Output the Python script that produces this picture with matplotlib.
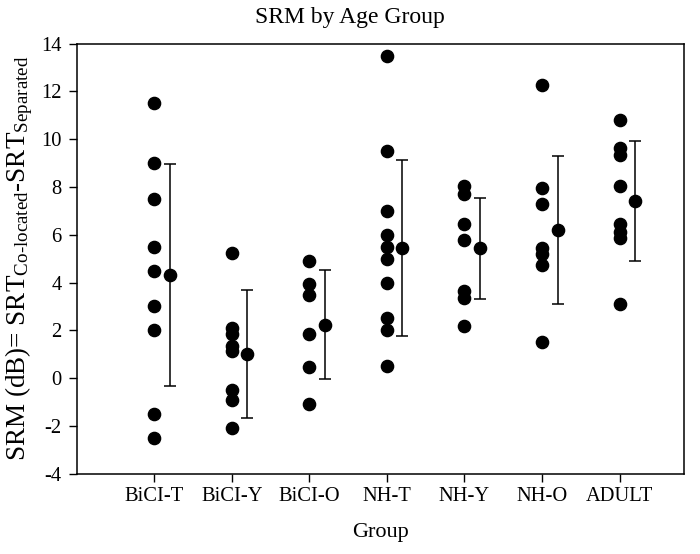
import matplotlib
matplotlib.use("Agg")
import matplotlib.pyplot as plt
import numpy as np

plt.rcParams['font.family'] = ['Liberation Serif', 'DejaVu Serif']
plt.rcParams['mathtext.fontset'] = 'custom'
plt.rcParams['mathtext.rm'] = 'Liberation Serif'
plt.rcParams['mathtext.it'] = 'Liberation Serif:italic'
plt.rcParams['axes.unicode_minus'] = False

groups = ["BiCI-T", "BiCI-Y", "BiCI-O", "NH-T", "NH-Y", "NH-O", "ADULT"]

bici_t = [11.5, 9.0, 7.5, 5.5, 4.5, 3.0, 2.0, -1.5, -2.5]
bici_y = [5.25, 2.1, 1.85, 1.35, 1.15, -0.5, -0.9, -2.1]
bici_o = [4.9, 3.95, 3.5, 1.85, 0.45, -1.1]
nh_t = [13.5, 9.5, 7.0, 6.0, 5.5, 5.0, 4.0, 2.5, 2.0, 0.5]
nh_y = [8.05, 7.7, 6.45, 5.8, 3.65, 3.35, 2.2]
nh_o = [12.25, 7.95, 7.3, 5.45, 5.2, 4.75, 1.5]
adult = [10.8, 9.65, 9.35, 8.05, 6.45, 6.1, 5.85, 3.1]

means = [4.33, 1.02, 2.24, 5.45, 5.43, 6.2, 7.42]
sds = [4.64, 2.68, 2.28, 3.67, 2.12, 3.1, 2.52]

individual = [bici_t, bici_y, bici_o, nh_t, nh_y, nh_o, adult]

fig = plt.figure(figsize=(7.0, 5.54), dpi=100)
ax = fig.add_axes([0.1096, 0.1448, 0.977 - 0.1096, 0.9213 - 0.1448])

pos = np.arange(1, len(groups) + 1)
for p, vals in zip(pos, individual):
    ax.plot([p] * len(vals), vals, 'o', color='black', markersize=8.8, linestyle='none')

ax.errorbar(pos + 0.2, means, yerr=sds, fmt='o', color='black', markersize=8.8,
            ecolor='black', elinewidth=1.1, capsize=4.5, capthick=1.1)

ax.set_xlim(0, 7.83)
ax.set_ylim(-4, 14)
ax.set_yticks(np.arange(-4, 15, 2))
ax.set_xticks(pos)
ax.set_xticklabels(groups)

for s in ax.spines.values():
    s.set_linewidth(1.1)
ax.tick_params(axis='both', direction='out', length=6, width=1.0, labelsize=14.8,
               top=False, right=False)
ax.tick_params(axis='x', pad=3.5)
ax.tick_params(axis='y', pad=5)

fig.suptitle("SRM by Age Group", fontsize=17, x=0.5, y=0.969, va='center')
ax.set_xlabel("Group", fontsize=16, labelpad=12.5)
ax.set_ylabel(r'SRM (dB)= SRT$_{\text{Co-located}}$-SRT$_{\text{Separated}}$', fontsize=19.5, labelpad=4)

fig.savefig("out.png", dpi=100)
